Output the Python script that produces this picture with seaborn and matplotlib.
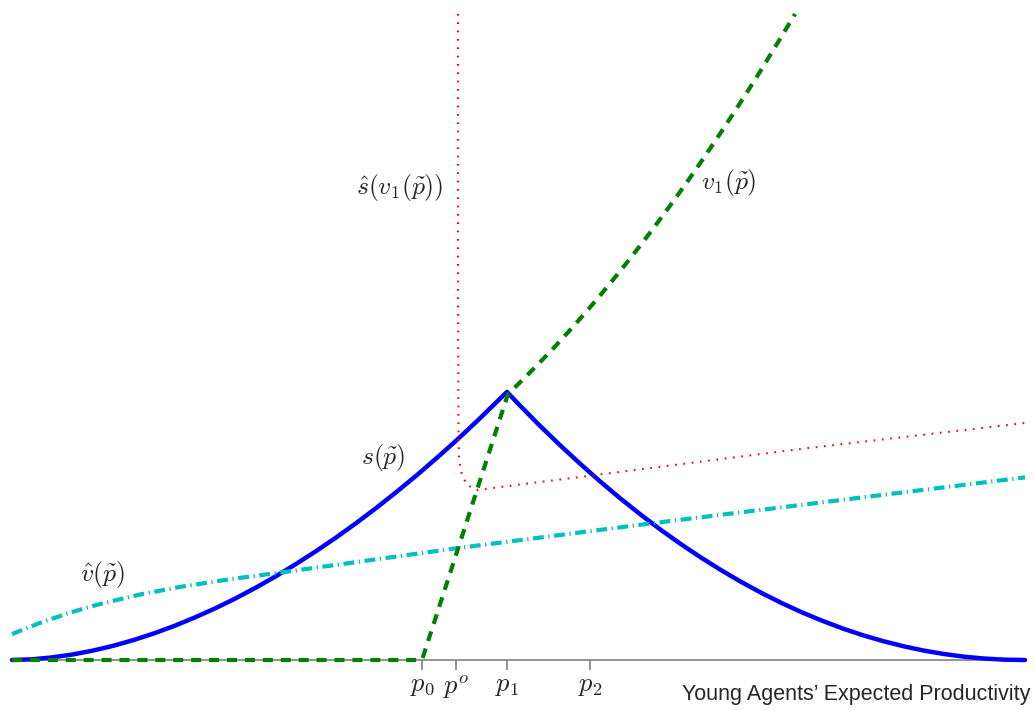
import numpy as np
import pandas as pd
import seaborn as sns
import matplotlib.pyplot as plt

# values (x: productivity, y: value, both 0..1)
s_x = [0.0, 0.02, 0.04, 0.06, 0.08, 0.10, 0.12, 0.14, 0.16, 0.18, 0.20, 0.22, 0.24,
       0.26, 0.28, 0.30, 0.32, 0.34, 0.36, 0.38, 0.40, 0.42, 0.44, 0.46, 0.4886,
       0.50, 0.52, 0.54, 0.56, 0.58, 0.60, 0.62, 0.64, 0.66, 0.68, 0.70, 0.72, 0.74,
       0.76, 0.78, 0.80, 0.82, 0.84, 0.86, 0.88, 0.90, 0.92, 0.94, 0.96, 0.98, 1.0]
s_y = [0.0, 0.0011, 0.0041, 0.0086, 0.0146, 0.0220, 0.0309, 0.0411, 0.0526, 0.0655, 0.0795, 0.0948, 0.1114,
       0.1292, 0.1482, 0.1684, 0.1897, 0.2122, 0.2359, 0.2607, 0.2866, 0.3137, 0.3418, 0.3712, 0.415,
       0.3962, 0.3644, 0.3340, 0.3050, 0.2772, 0.2508, 0.2258, 0.2020, 0.1797, 0.1587, 0.1391, 0.1207, 0.1037,
       0.0880, 0.0736, 0.0606, 0.0488, 0.0383, 0.0292, 0.0213, 0.0146, 0.0093, 0.0051, 0.0022, 0.0005, 0.0]

v1_x = [0.0, 0.4047, 0.4472, 0.4896, 0.5044, 0.5192, 0.5341, 0.5489, 0.5637, 0.5785, 0.5933,
        0.6081, 0.6229, 0.6377, 0.6525, 0.6673, 0.6821, 0.6969, 0.7117, 0.7266, 0.7414,
        0.7562, 0.7730]
v1_y = [0.0, 0.0, 0.2059, 0.4118, 0.4342, 0.4577, 0.4820, 0.5073, 0.5334, 0.5605, 0.5885,
        0.6173, 0.6472, 0.6779, 0.7094, 0.7420, 0.7754, 0.8098, 0.8450, 0.8813, 0.9183,
        0.9563, 1.0]

shat_x = [0.4403, 0.4403, 0.4408, 0.4413, 0.4442, 0.4492, 0.4590, 0.5805, 0.7779, 1.0]
shat_y = [1.0, 0.5573, 0.3406, 0.3096, 0.2864, 0.2709, 0.2632, 0.2872, 0.3266, 0.3669]

vhat_x = [0.0, 0.0276, 0.0573, 0.0869, 0.1264, 0.1658, 0.2152, 0.2675, 0.4393, 0.6269, 1.0]
vhat_y = [0.0402, 0.0574, 0.0734, 0.0867, 0.1014, 0.1131, 0.1251, 0.1359, 0.1731, 0.2107, 0.2827]

tick_pos = [0.4047, 0.4383, 0.4886, 0.5706]
tick_labels = [r'$p_0$', r'$p^o$', r'$p_1$', r'$p_2$']

sns.set_style("white")
plt.rcParams['mathtext.fontset'] = 'cm'
plt.rcParams['font.family'] = ['Liberation Sans', 'DejaVu Sans']

fig = plt.figure(figsize=(10.34, 7.10), dpi=100)
ax = fig.add_axes([12 / 1034, 50 / 710, 1013 / 1034, 646 / 710])

curves = [
    (s_x, s_y, 'blue', 3.2, '-'),
    (shat_x, shat_y, 'red', 1.5, (0, (0.8, 3.2))),
    (vhat_x, vhat_y, '#00bfbf', 3.0, (0, (2.6, 1.1, 0.3, 1.1))),
    (v1_x, v1_y, 'green', 3.0, (0, (2.4, 1.9))),
]
for cx, cy, col, lw, ls in curves:
    sns.lineplot(x=cx, y=cy, color=col, lw=lw, estimator=None, sort=False, ax=ax)
    ln = ax.lines[-1]
    ln.set_linestyle(ls)
    ln.set_clip_on(False)
    ln.set_zorder(3)
    ln.set_solid_joinstyle('round')

ax.set_xlim(0, 1)
ax.set_ylim(0, 1)
for side in ['left', 'top', 'right']:
    ax.spines[side].set_visible(False)
ax.spines['bottom'].set_color('#808080')
ax.spines['bottom'].set_linewidth(1.2)
ax.set_yticks([])
ax.set_xticks(tick_pos)
ax.set_xticklabels(tick_labels, fontsize=19)
ax.tick_params(axis='x', direction='out', length=7, width=1.2, color='#808080',
               pad=3, bottom=True)

labels = [
    (0.383, 0.7307, r'$\hat{s}(v_1(\tilde{p}))$'),
    (0.7078, 0.7384, r'$v_1(\tilde{p})$'),
    (0.3662, 0.3127, r'$s(\tilde{p})$'),
    (0.0888, 0.1316, r'$\hat{v}(\tilde{p})$'),
]
for lx, ly, txt in labels:
    ax.text(lx, ly, txt, fontsize=18.5, ha='center', va='center')

fig.text(1030 / 1034, 10 / 710, "Young Agents\u2019 Expected Productivity",
         fontsize=15.5, ha='right', va='baseline')

fig.savefig("out.png", dpi=100)
